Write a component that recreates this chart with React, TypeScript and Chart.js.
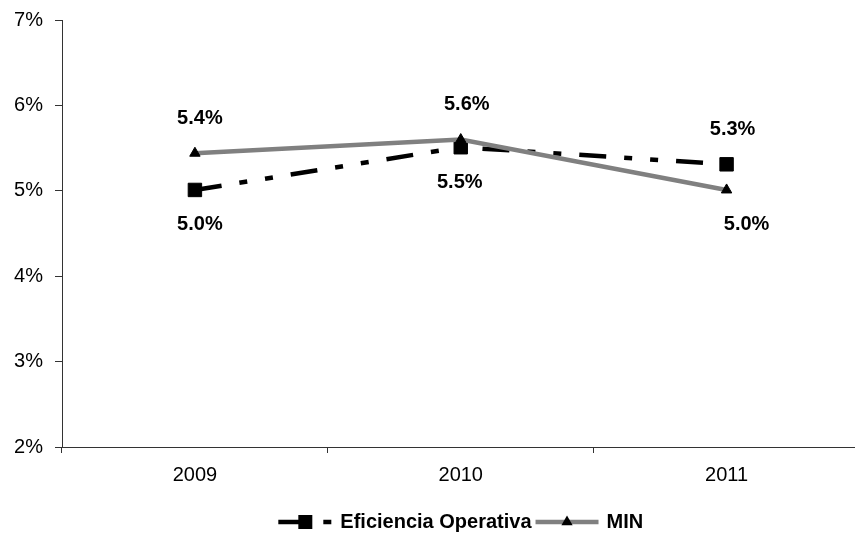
import React, { useEffect, useRef } from "react";
import { Chart, registerables } from "chart.js";

Chart.register(...registerables);

// Years on the category axis
const years = ["2009", "2010", "2011"];

// Ratios in percent
const eficienciaOperativa = [5.01, 5.51, 5.31];
const margenMIN = [5.44, 5.6, 5.01];

// Y axis range (percent)
const yMin = 2;
const yMax = 7;

// Where each value label sits relative to its point
const eficienciaLabelSide = ["below", "below", "above"];
const minLabelSide = ["above", "above", "below"];
const eficienciaLabelDx = [5, -1, 6];
const minLabelDx = [5, 6, 20];

const FONT = "'Liberation Sans', Arial, Helvetica, sans-serif";
const AXIS_COLOR = "#333333";
const EF_DASH = [27, 18, 8, 18, 8, 18];

function drawMarker(ctx: CanvasRenderingContext2D, style: string, x: number, y: number) {
  ctx.save();
  ctx.setLineDash([]);
  ctx.fillStyle = "#000";
  ctx.beginPath();
  if (style === "rect") {
    ctx.rect(x - 7, y - 7, 14, 14);
  } else {
    const r = 6.5;
    ctx.moveTo(x, y - r);
    ctx.lineTo(x + r * 0.866, y + r * 0.5);
    ctx.lineTo(x - r * 0.866, y + r * 0.5);
    ctx.closePath();
  }
  ctx.fill();
  ctx.restore();
}

const valueLabels = {
  id: "valueLabels",
  afterDatasetsDraw(chart: any) {
    const ctx = chart.ctx as CanvasRenderingContext2D;
    ctx.save();
    ctx.font = `bold 20px ${FONT}`;
    ctx.fillStyle = "#000";
    ctx.textAlign = "center";
    ctx.textBaseline = "middle";
    chart.data.datasets.forEach((ds: any, i: number) => {
      const meta = chart.getDatasetMeta(i);
      const sides: string[] = ds.labelSide;
      const dxs: number[] = ds.labelDx;
      meta.data.forEach((pt: any, j: number) => {
        const v = ds.data[j] as number;
        const dy = sides[j] === "above" ? -35 : 35;
        ctx.fillText(v.toFixed(1) + "%", pt.x + dxs[j], pt.y + dy);
      });
    });
    ctx.restore();
  },
};

const lineLegend = {
  id: "lineLegend",
  afterDraw(chart: any) {
    const ctx = chart.ctx as CanvasRenderingContext2D;
    const area = chart.chartArea;
    const y = 522;
    ctx.save();
    ctx.font = `bold 20px ${FONT}`;
    ctx.textBaseline = "middle";
    ctx.textAlign = "left";
    const items = chart.data.datasets.map((ds: any) => ({
      ds,
      sample: ds.legendSample as number,
      textW: ctx.measureText(ds.label).width,
    }));
    const gapText = 8;
    const gapItem = 4;
    let total = 0;
    items.forEach((it: any, k: number) => {
      total += it.sample + gapText + it.textW + (k ? gapItem : 0);
    });
    let x = (area.left + area.right) / 2 - total / 2;
    items.forEach((it: any, k: number) => {
      if (k) x += gapItem;
      const ds = it.ds;
      ctx.save();
      ctx.strokeStyle = ds.borderColor;
      ctx.lineWidth = ds.borderWidth;
      ctx.setLineDash(ds.borderDash || []);
      ctx.beginPath();
      ctx.moveTo(x, y);
      ctx.lineTo(x + it.sample, y);
      ctx.stroke();
      ctx.restore();
      drawMarker(ctx, ds.pointStyle, x + it.sample / 2, y);
      x += it.sample + gapText;
      ctx.fillStyle = "#000";
      ctx.fillText(ds.label, x, y);
      x += it.textW;
    });
    ctx.restore();
  },
};

export default function App() {
  const canvasRef = useRef<HTMLCanvasElement | null>(null);

  useEffect(() => {
    const canvas = canvasRef.current;
    if (!canvas) return;
    Chart.defaults.font.family = FONT;
    const chart = new Chart(canvas, {
      type: "line",
      data: {
        labels: years,
        datasets: [
          {
            label: "Eficiencia Operativa",
            data: eficienciaOperativa,
            borderColor: "#000000",
            backgroundColor: "#000000",
            borderWidth: 4.5,
            borderDash: EF_DASH,
            pointStyle: "rect",
            pointRadius: 9.5,
            pointBorderWidth: 1,
            pointBorderColor: "#000000",
            pointBackgroundColor: "#000000",
            tension: 0,
            order: 1,
            labelSide: eficienciaLabelSide,
            labelDx: eficienciaLabelDx,
            legendSample: 54,
          } as any,
          {
            label: "MIN",
            data: margenMIN,
            borderColor: "#808080",
            backgroundColor: "#000000",
            borderWidth: 4.5,
            pointStyle: "triangle",
            pointRadius: 6,
            pointBorderWidth: 1,
            pointBorderColor: "#000000",
            pointBackgroundColor: "#000000",
            tension: 0,
            order: 0,
            labelSide: minLabelSide,
            labelDx: minLabelDx,
            legendSample: 63,
          } as any,
        ],
      },
      options: {
        responsive: false,
        devicePixelRatio: 1,
        animation: false,
        layout: { padding: { left: 0, top: 20, right: 7, bottom: 0 } },
        plugins: {
          legend: { display: false },
          tooltip: { enabled: false },
        },
        scales: {
          x: {
            type: "category",
            offset: true,
            grid: {
              offset: true,
              drawOnChartArea: false,
              drawTicks: true,
              tickLength: 6,
              color: AXIS_COLOR,
            },
            border: { display: true, color: AXIS_COLOR, width: 1 },
            ticks: { color: "#000", font: { size: 20 }, padding: 10 },
            afterFit(scale: any) {
              scale.height = 95;
              scale.paddingLeft = 0;
              scale.paddingRight = 0;
            },
          },
          y: {
            min: yMin,
            max: yMax,
            grid: {
              drawOnChartArea: false,
              drawTicks: true,
              tickLength: 7,
              color: AXIS_COLOR,
            },
            border: { display: true, color: AXIS_COLOR, width: 1 },
            ticks: {
              stepSize: 1,
              color: "#000",
              font: { size: 20 },
              padding: 12,
              callback: (v: any) => `${v}%`,
            },
            afterFit(scale: any) {
              scale.width = 62;
              scale.paddingTop = 0;
              scale.paddingBottom = 0;
            },
          },
        },
      },
      plugins: [valueLabels, lineLegend],
    });
    return () => chart.destroy();
  }, []);

  return (
    <div
      style={{
        position: "fixed",
        left: 0,
        top: 0,
        width: 855,
        height: 542,
        overflow: "hidden",
        background: "#fff",
      }}
    >
      <canvas ref={canvasRef} width={870} height={542} style={{ display: "block" }} />
    </div>
  );
}
